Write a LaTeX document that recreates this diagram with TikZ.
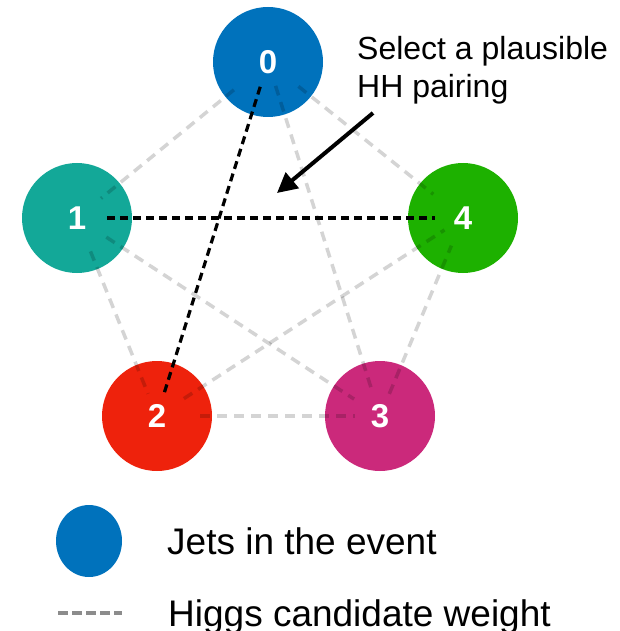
\documentclass[tikz,border=0pt]{standalone}
\usepackage{fontspec}
\setmainfont{Liberation Sans}
\usetikzlibrary{arrows.meta,shapes.geometric}
\definecolor{cblue}{HTML}{0072BC}
\definecolor{cteal}{HTML}{13A898}
\definecolor{cgreen}{HTML}{1DB100}
\definecolor{cred}{HTML}{EE220C}
\definecolor{cmag}{HTML}{CB297B}
\begin{document}
\begin{tikzpicture}[x=1pt,y=-1pt,
  jet/.style={circle,minimum size=110pt,inner sep=0pt,text=white,
    font=\fontsize{33}{36}\selectfont\bfseries},
  weight/.style={draw=black,draw opacity=0.17,line width=3.5pt,dash pattern=on 10pt off 7pt},
  pairing/.style={draw=black,line width=3.2pt,dash pattern=on 8pt off 5pt},
  lbl/.style={anchor=base west,inner sep=0pt}]
\useasboundingbox (0,0) rectangle (619,631);
% jets
\node[jet,fill=cblue]  (j0) at (268,62)  {0};
\node[jet,fill=cteal]  (j1) at (77,218)  {1};
\node[jet,fill=cgreen] (j4) at (463,218) {4};
\node[jet,fill=cred]   (j2) at (157,416) {2};
\node[jet,fill=cmag]   (j3) at (380,416) {3};
% candidate weights
\draw[weight,shorten <=44pt,shorten >=31pt] (j0.center) -- (j1.center);
\draw[weight,shorten <=25pt,shorten >=29pt] (j0.center) -- (j3.center);
\draw[weight,shorten <=39pt,shorten >=38pt] (j0.center) -- (j4.center);
\draw[weight,shorten <=36pt,shorten >=24pt] (j1.center) -- (j2.center);
\draw[weight,shorten <=35pt,shorten >=31pt] (j1.center) -- (j3.center);
\draw[weight,shorten <=32pt,shorten >=22pt] (j2.center) -- (j4.center);
\draw[weight,shorten <=24pt,shorten >=30pt] (j3.center) -- (j4.center);
\draw[weight,shorten <=43pt,shorten >=25pt] (j2.center) -- (j3.center);
% selected pairing
\draw[pairing,shorten <=30pt,shorten >=28pt] (j1.center) -- (j4.center);
\draw[pairing,shorten <=26pt,shorten >=22pt] (j0.center) -- (j2.center);
% annotation
\node[lbl,font=\fontsize{32}{38}\selectfont] (t1) at (357,60) {Select a plausible};
\node[lbl,font=\fontsize{32}{38}\selectfont] (t2) at (357,98) {HH pairing};
\coordinate (arS) at (373,113);
\coordinate (arE) at (277,193);
\draw[line width=4pt,-{Triangle[length=20pt,width=20pt]}] (arS) -- (arE);
% legend
\node[ellipse,fill=cblue,minimum width=66pt,minimum height=72pt,inner sep=0pt] (lj) at (89,541) {};
\node[lbl,font=\fontsize{37}{42}\selectfont] (lt1) at (167,554) {Jets in the event};
\coordinate (lw1) at (58,613);
\coordinate (lw2) at (122,613);
\draw[draw=black!45,line width=4pt,dash pattern=on 10pt off 4pt] (lw1) -- (lw2);
\node[lbl,font=\fontsize{37}{42}\selectfont] (lt2) at (168,626) {Higgs candidate weight};
\end{tikzpicture}
\end{document}
